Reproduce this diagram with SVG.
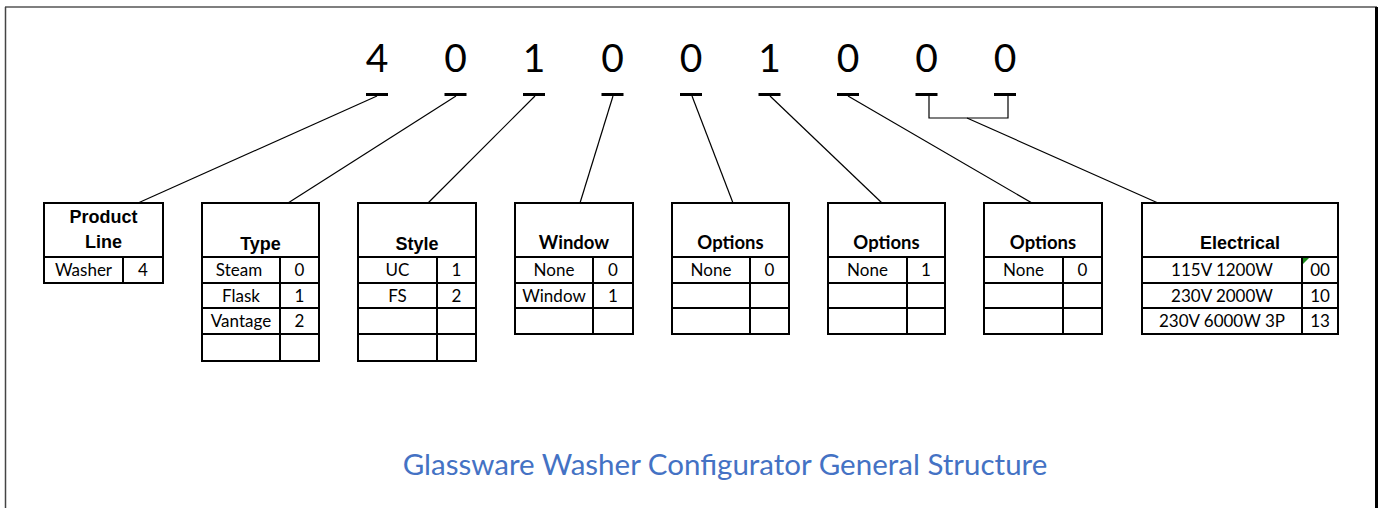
<svg xmlns="http://www.w3.org/2000/svg" width="1379" height="508" viewBox="0 0 1379 508">
<style>
.bx{fill:#fff;stroke:#000;stroke-width:2}
.gl{stroke:#000;stroke-width:2;fill:none}
.cn{stroke:#000;stroke-width:1.2;fill:none}
.dg{font-family:Lato,"Liberation Sans",sans-serif;font-size:39px;fill:#000;text-anchor:middle}
.ha{font-family:"Liberation Sans",Arial,sans-serif;font-weight:bold;font-size:18px;fill:#000;text-anchor:middle}
.hc{font-family:Lato,"Liberation Sans",sans-serif;font-weight:bold;font-size:18.5px;fill:#000;text-anchor:middle}
.c{font-family:Lato,"Liberation Sans",sans-serif;font-size:17px;fill:#000;text-anchor:middle}
.t{font-family:Lato,"Liberation Sans",sans-serif;font-size:29.5px;fill:#4472C4;text-anchor:middle}
</style>
<rect width="1379" height="508" fill="#fff"/>
<line x1="5" y1="7" x2="1377" y2="7" stroke="#555" stroke-width="1.5"/>
<line x1="5.5" y1="7" x2="5.5" y2="508" stroke="#444" stroke-width="1.5"/>
<line x1="1376.5" y1="7" x2="1376.5" y2="508" stroke="#000" stroke-width="3"/>

<g id="code">
<text class="dg" x="377" y="72">4</text>
<text class="dg" x="455.5" y="72">0</text>
<text class="dg" x="534" y="72">1</text>
<text class="dg" x="612.5" y="72">0</text>
<text class="dg" x="691" y="72">0</text>
<text class="dg" x="769.5" y="72">1</text>
<text class="dg" x="848" y="72">0</text>
<text class="dg" x="926.5" y="72">0</text>
<text class="dg" x="1005" y="72">0</text>
<g fill="#000">
<rect x="366" y="93" width="22" height="3"/>
<rect x="444.5" y="93" width="22" height="3"/>
<rect x="523" y="93" width="22" height="3"/>
<rect x="601.5" y="93" width="22" height="3"/>
<rect x="680" y="93" width="22" height="3"/>
<rect x="758.5" y="93" width="22" height="3"/>
<rect x="837" y="93" width="22" height="3"/>
<rect x="915.5" y="93" width="22" height="3"/>
<rect x="994" y="93" width="22" height="3"/>
</g>
</g>

<g id="connectors">
<line class="cn" x1="377" y1="96" x2="138" y2="203"/>
<line class="cn" x1="456" y1="96" x2="288" y2="203"/>
<line class="cn" x1="535" y1="96" x2="428" y2="203"/>
<line class="cn" x1="613" y1="96" x2="580" y2="203"/>
<line class="cn" x1="692" y1="96" x2="733" y2="203"/>
<line class="cn" x1="770" y1="96" x2="882" y2="203"/>
<line class="cn" x1="848" y1="96" x2="1032" y2="203"/>
<polyline class="cn" points="929,96 929,118 1008,118 1008,96"/>
<line class="cn" x1="967" y1="118" x2="1158" y2="203"/>
</g>

<g id="product-line">
<rect class="bx" x="44" y="203" width="119" height="80"/>
<line class="gl" x1="44" y1="257" x2="163" y2="257"/>
<line class="gl" x1="123" y1="257" x2="123" y2="283"/>
<text class="ha" x="103.5" y="223">Product</text>
<text class="ha" x="103.5" y="248">Line</text>
<text class="c" x="83.5" y="276">Washer</text>
<text class="c" x="143" y="276">4</text>
</g>

<g id="type">
<rect class="bx" x="202" y="203" width="117" height="158"/>
<line class="gl" x1="202" y1="257" x2="319" y2="257"/>
<line class="gl" x1="202" y1="283" x2="319" y2="283"/>
<line class="gl" x1="202" y1="308" x2="319" y2="308"/>
<line class="gl" x1="202" y1="334" x2="319" y2="334"/>
<line class="gl" x1="280" y1="257" x2="280" y2="361"/>
<text class="ha" x="260.5" y="250">Type</text>
<text class="c" x="239" y="276">Steam</text>
<text class="c" x="241" y="302">Flask</text>
<text class="c" x="241" y="327">Vantage</text>
<text class="c" x="299.5" y="276">0</text>
<text class="c" x="299.5" y="302">1</text>
<text class="c" x="299.5" y="327">2</text>
</g>

<g id="style">
<rect class="bx" x="358" y="203" width="118" height="158"/>
<line class="gl" x1="358" y1="257" x2="476" y2="257"/>
<line class="gl" x1="358" y1="283" x2="476" y2="283"/>
<line class="gl" x1="358" y1="308" x2="476" y2="308"/>
<line class="gl" x1="358" y1="334" x2="476" y2="334"/>
<line class="gl" x1="437" y1="257" x2="437" y2="361"/>
<text class="ha" x="417" y="250">Style</text>
<text class="c" x="397.5" y="276">UC</text>
<text class="c" x="397.5" y="302">FS</text>
<text class="c" x="456.5" y="276">1</text>
<text class="c" x="456.5" y="302">2</text>
</g>

<g id="window">
<rect class="bx" x="515" y="203" width="118" height="131"/>
<line class="gl" x1="515" y1="257" x2="633" y2="257"/>
<line class="gl" x1="515" y1="283" x2="633" y2="283"/>
<line class="gl" x1="515" y1="308" x2="633" y2="308"/>
<line class="gl" x1="593" y1="257" x2="593" y2="334"/>
<text class="hc" x="574" y="249">Window</text>
<text class="c" x="554" y="276">None</text>
<text class="c" x="554" y="302">Window</text>
<text class="c" x="613" y="276">0</text>
<text class="c" x="613" y="302">1</text>
</g>

<g id="options-1">
<rect class="bx" x="672" y="203" width="117" height="131"/>
<line class="gl" x1="672" y1="257" x2="789" y2="257"/>
<line class="gl" x1="672" y1="283" x2="789" y2="283"/>
<line class="gl" x1="672" y1="308" x2="789" y2="308"/>
<line class="gl" x1="750" y1="257" x2="750" y2="334"/>
<text class="hc" x="730.5" y="249">Options</text>
<text class="c" x="711" y="276">None</text>
<text class="c" x="769.5" y="276">0</text>
</g>

<g id="options-2">
<rect class="bx" x="828" y="203" width="117" height="131"/>
<line class="gl" x1="828" y1="257" x2="945" y2="257"/>
<line class="gl" x1="828" y1="283" x2="945" y2="283"/>
<line class="gl" x1="828" y1="308" x2="945" y2="308"/>
<line class="gl" x1="907" y1="257" x2="907" y2="334"/>
<text class="hc" x="886.5" y="249">Options</text>
<text class="c" x="867.5" y="276">None</text>
<text class="c" x="926" y="276">1</text>
</g>

<g id="options-3">
<rect class="bx" x="984" y="203" width="118" height="131"/>
<line class="gl" x1="984" y1="257" x2="1102" y2="257"/>
<line class="gl" x1="984" y1="283" x2="1102" y2="283"/>
<line class="gl" x1="984" y1="308" x2="1102" y2="308"/>
<line class="gl" x1="1063" y1="257" x2="1063" y2="334"/>
<text class="hc" x="1043" y="249">Options</text>
<text class="c" x="1023.5" y="276">None</text>
<text class="c" x="1082.5" y="276">0</text>
</g>

<g id="electrical">
<rect class="bx" x="1142" y="203" width="196" height="131"/>
<line class="gl" x1="1142" y1="257" x2="1338" y2="257"/>
<line class="gl" x1="1142" y1="283" x2="1338" y2="283"/>
<line class="gl" x1="1142" y1="308" x2="1338" y2="308"/>
<line class="gl" x1="1302" y1="257" x2="1302" y2="334"/>
<polygon points="1303,258 1309,258 1303,264" fill="#1a8a1a"/>
<text class="ha" x="1240" y="249">Electrical</text>
<text class="c" x="1222" y="276">115V 1200W</text>
<text class="c" x="1222" y="302">230V 2000W</text>
<text class="c" x="1222" y="327">230V 6000W 3P</text>
<text class="c" x="1320" y="276">00</text>
<text class="c" x="1320" y="302">10</text>
<text class="c" x="1320" y="327">13</text>
</g>

<text class="t" x="725" y="475">Glassware Washer Configurator General Structure</text>
</svg>
